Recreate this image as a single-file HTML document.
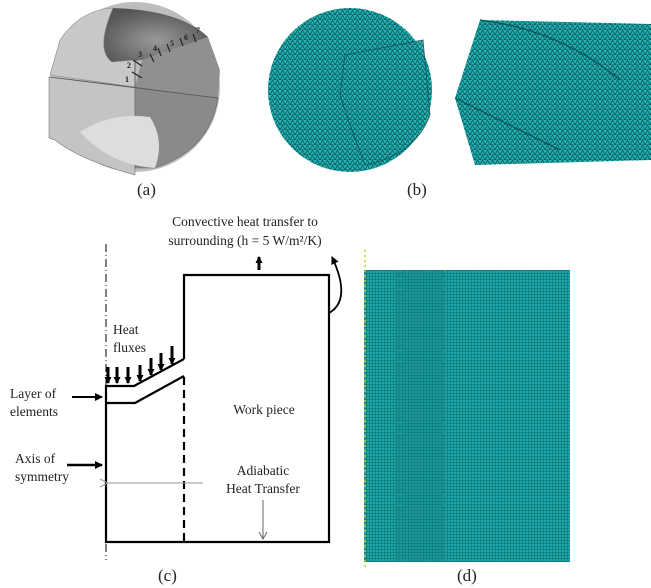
<!DOCTYPE html>
<html><head><style>
html,body{margin:0;padding:0;background:#fff;}
svg{display:block;}
text{font-family:"Liberation Serif",serif;fill:#222;}
</style></head><body>
<svg width="651" height="588" viewBox="0 0 651 588" xmlns="http://www.w3.org/2000/svg">
<defs>
<radialGradient id="dk" cx="0.5" cy="0.6" r="0.6"><stop offset="0" stop-color="#999"/><stop offset="1" stop-color="#555"/></radialGradient>
<pattern id="mesh" width="5" height="5" patternUnits="userSpaceOnUse">
<rect width="5" height="5" fill="#1fb5b5"/><path d="M0 5L2.5 0L5 5Z" fill="none" stroke="#0b4f55" stroke-width="0.8"/></pattern>
<pattern id="mesh2" width="3" height="3" patternUnits="userSpaceOnUse">
<rect width="3" height="3" fill="#1aa7a7"/><path d="M0 0H3M0 0V3" stroke="#0a5058" stroke-width="0.7"/></pattern>
<marker id="ah" markerUnits="userSpaceOnUse" markerWidth="8" markerHeight="8" refX="7" refY="4" orient="auto"><path d="M0 0L8 4L0 8Z" fill="#000"/></marker>
<marker id="sm" markerUnits="userSpaceOnUse" markerWidth="7" markerHeight="7" refX="6" refY="3.5" orient="auto"><path d="M0 0L7 3.5L0 7Z" fill="#000"/></marker>
<marker id="ga" markerUnits="userSpaceOnUse" markerWidth="10" markerHeight="10" refX="1" refY="5" orient="auto"><path d="M9 1L1 5L9 9" fill="none" stroke="#999"/></marker>
</defs>
<!-- (a) -->
<circle cx="135" cy="87" r="85" fill="#bdbdbd"/>
<path d="M49 77 L135 87 L135 175 Q80 160 55 140 L49 138 Z" fill="#c4c4c4" stroke="#777" stroke-width="0.6"/>
<path d="M135 87 L218 98 Q210 150 155 168 L135 168 Z" fill="#8a8a8a" stroke="#666" stroke-width="0.6"/>
<path d="M135 87 L142 60 L208 37 L220 70 L218 98 Z" fill="#909090"/>
<path d="M113 8 Q95 50 112 62 Q125 62 142 60 L208 37 Q180 10 113 8Z" fill="url(#dk)"/>
<path d="M50 75 L60 40 Q80 10 113 8 Q95 50 112 62 L135 60 L135 87 Z" fill="#c8c8c8" stroke="#888" stroke-width="0.6"/>
<path d="M80 132 Q110 112 150 117 Q165 140 155 168 Q110 165 80 132Z" fill="#ddd"/>
<path d="M49 77 L218 98 M135 87 L135 60" stroke="#555" stroke-width="0.8"/>
<g stroke="#222" stroke-width="1.2"><path d="M132 72l10 6M133 60l9 6M150 54l4 8M158 48l3 8M167 44l3 8M180 38l3 8M193 34l3 8"/></g>
<g font-family="Liberation Sans" font-size="8" font-weight="bold" fill="#222"><text x="125" y="82">1</text><text x="127" y="68">2</text><text x="138" y="57">3</text><text x="153" y="51">4</text><text x="170" y="46">5</text><text x="184" y="40">6</text><text x="196" y="33">7</text></g>
<text x="137" y="195" font-size="17">(a)</text>
<!-- (b) -->
<circle cx="350" cy="90" r="82" fill="url(#mesh)"/>
<path d="M345 55 L423 40 L430 115 Q415 155 365 165 L350 125 L340 95Z" fill="url(#mesh)" stroke="#0b4f55" stroke-width="0.8" opacity="0.9"/>
<path d="M455 98 L480 20 L651 24 L651 160 L475 165 Z" fill="url(#mesh)"/>
<path d="M455 98 L560 150 M480 20 Q560 30 620 80" stroke="#0b4f55" stroke-width="1.2" fill="none"/>
<text x="407" y="195" font-size="17">(b)</text>
<!-- (c) -->
<text x="245" y="226" font-size="13.5" text-anchor="middle">Convective heat transfer to</text>
<text x="245" y="245" font-size="13.5" text-anchor="middle">surrounding (h = 5 W/m²/K)</text>
<path d="M259 270 V257" stroke="#000" stroke-width="3" marker-end="url(#sm)"/>
<path d="M329 313 Q352 300 332 257" stroke="#000" stroke-width="1.8" fill="none" marker-end="url(#ah)"/>
<line x1="106" y1="244" x2="106" y2="560" stroke="#000" stroke-width="1" stroke-dasharray="8,3,1,3"/>
<path d="M184 359 V275 H329 V542 H106 V386 H134 L184 359 M106 403 H135 L184 376" fill="none" stroke="#000" stroke-width="2.2"/>
<line x1="184" y1="377" x2="184" y2="542" stroke="#000" stroke-width="2.2" stroke-dasharray="8,5"/>
<g stroke="#000" stroke-width="3">
<line x1="108" y1="367" x2="108" y2="383" marker-end="url(#sm)"/>
<line x1="117" y1="367" x2="117" y2="383" marker-end="url(#sm)"/>
<line x1="128" y1="367" x2="128" y2="383" marker-end="url(#sm)"/>
<line x1="140" y1="365" x2="140" y2="381" marker-end="url(#sm)"/>
<line x1="151" y1="358" x2="151" y2="375" marker-end="url(#sm)"/>
<line x1="161" y1="353" x2="161" y2="370" marker-end="url(#sm)"/>
<line x1="172" y1="346" x2="172" y2="364" marker-end="url(#sm)"/>
</g>
<text x="113" y="334" font-size="13.5">Heat</text>
<text x="113" y="352" font-size="13.5">fluxes</text>
<text x="10" y="398" font-size="13.5">Layer of</text>
<text x="10" y="416" font-size="13.5">elements</text>
<path d="M72 397 H102" stroke="#000" stroke-width="2" marker-end="url(#ah)"/>
<text x="15" y="463" font-size="13.5">Axis of</text>
<text x="15" y="481" font-size="13.5">symmetry</text>
<path d="M67 465 H102" stroke="#000" stroke-width="2.5" marker-end="url(#ah)"/>
<path d="M203 483 H108" stroke="#999" stroke-width="1" marker-end="url(#ga)"/>
<text x="264" y="414" font-size="13.5" text-anchor="middle">Work piece</text>
<text x="263" y="475" font-size="13.5" text-anchor="middle">Adiabatic</text>
<text x="263" y="493" font-size="13.5" text-anchor="middle">Heat Transfer</text>
<path d="M263 500 V538 M259 532 L263 539 L267 532" stroke="#666" stroke-width="1" fill="none"/>
<text x="158" y="581" font-size="17">(c)</text>
<!-- (d) -->
<rect x="364" y="270" width="206" height="292" fill="url(#mesh2)"/>
<rect x="395" y="270" width="50" height="292" fill="#137f85" opacity="0.35"/>
<line x1="365" y1="250" x2="365" y2="568" stroke="#cccc33" stroke-width="1.5" stroke-dasharray="2,3"/>
<line x1="400" y1="270" x2="400" y2="562" stroke="#cccc33" stroke-width="1" stroke-dasharray="1,8" opacity="0.6"/>
<line x1="445" y1="270" x2="445" y2="562" stroke="#cccc33" stroke-width="1" stroke-dasharray="1,8" opacity="0.6"/>
<text x="457" y="581" font-size="17">(d)</text>
</svg>
</body></html>
